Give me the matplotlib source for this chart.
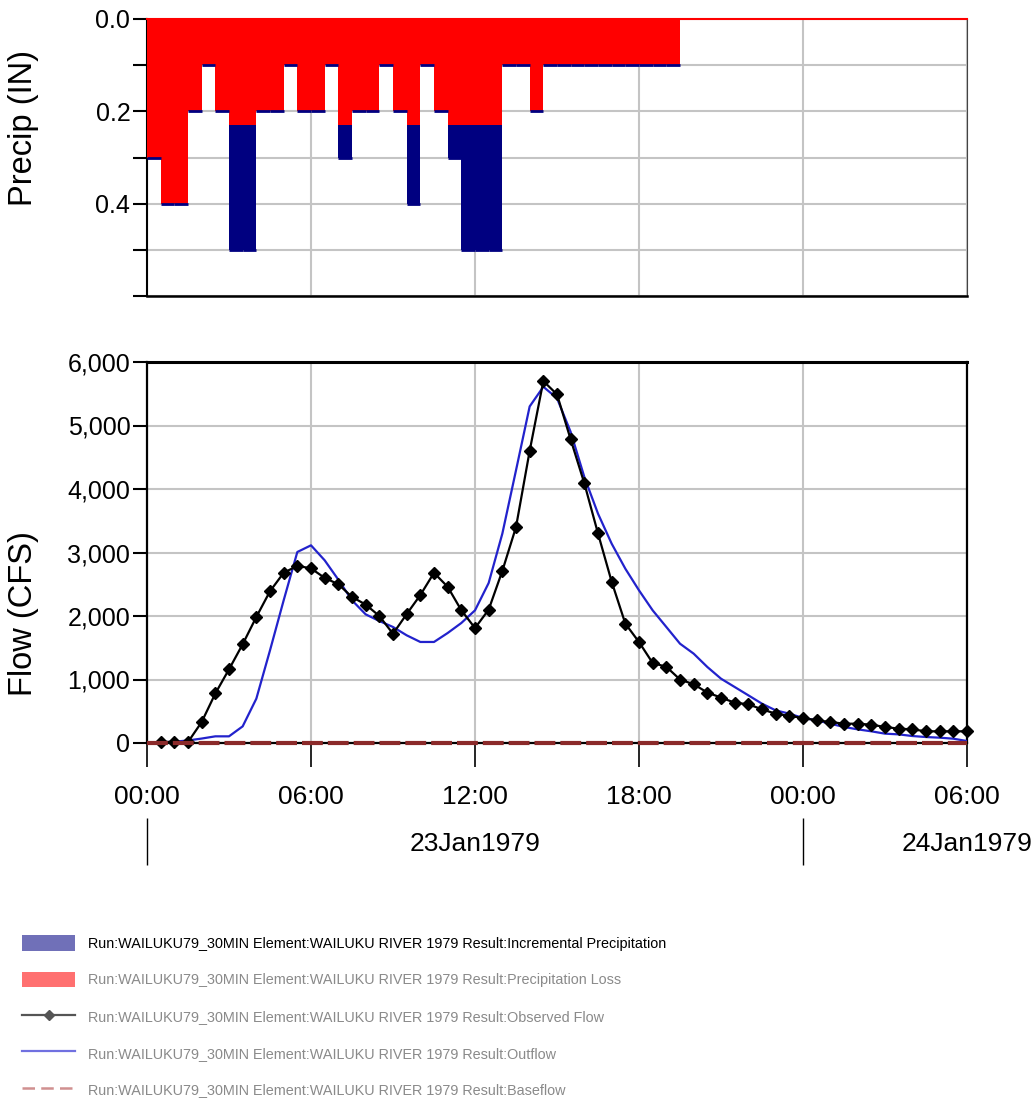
import matplotlib
matplotlib.use("Agg")
import matplotlib.pyplot as plt
from matplotlib.patches import Patch
from matplotlib.lines import Line2D
from matplotlib.ticker import FixedLocator, FixedFormatter
import numpy as np

# ---------------- data ----------------
# precipitation per 30-min interval (hours from 00:00 23Jan1979)
precip_start_h = [i * 0.5 for i in range(60)]
precip_total = [0.30, 0.40, 0.40, 0.20, 0.10, 0.20, 0.50, 0.50, 0.20, 0.20,
                0.10, 0.20, 0.20, 0.10, 0.30, 0.20, 0.20, 0.10, 0.20, 0.40,
                0.10, 0.20, 0.30, 0.50, 0.50, 0.50, 0.10, 0.10, 0.20, 0.10,
                0.10, 0.10, 0.10, 0.10, 0.10, 0.10, 0.10, 0.10, 0.10, 0.00,
                0, 0, 0, 0, 0, 0, 0, 0, 0, 0,
                0, 0, 0, 0, 0, 0, 0, 0, 0, 0]
precip_loss = [0.30, 0.40, 0.40, 0.20, 0.10, 0.20, 0.23, 0.23, 0.20, 0.20,
               0.10, 0.20, 0.20, 0.10, 0.23, 0.20, 0.20, 0.10, 0.20, 0.23,
               0.10, 0.20, 0.23, 0.23, 0.23, 0.23, 0.10, 0.10, 0.20, 0.10,
               0.10, 0.10, 0.10, 0.10, 0.10, 0.10, 0.10, 0.10, 0.10, 0.00,
               0, 0, 0, 0, 0, 0, 0, 0, 0, 0,
               0, 0, 0, 0, 0, 0, 0, 0, 0, 0]

obs_h = [0.5, 1.0, 1.5, 2.0, 2.5, 3.0, 3.5, 4.0, 4.5, 5.0, 5.5, 6.0, 6.5, 7.0,
         7.5, 8.0, 8.5, 9.0, 9.5, 10.0, 10.5, 11.0, 11.5, 12.0, 12.5, 13.0,
         13.5, 14.0, 14.5, 15.0, 15.5, 16.0, 16.5, 17.0, 17.5, 18.0, 18.5,
         19.0, 19.5, 20.0, 20.5, 21.0, 21.5, 22.0, 22.5, 23.0, 23.5, 24.0,
         24.5, 25.0, 25.5, 26.0, 26.5, 27.0, 27.5, 28.0, 28.5, 29.0, 29.5, 30.0]
obs_flow = [20, 15, 15, 330, 780, 1160, 1555, 1985, 2390, 2680, 2790, 2750,
            2600, 2500, 2300, 2180, 2000, 1720, 2030, 2330, 2680, 2460, 2090,
            1810, 2100, 2710, 3400, 4600, 5700, 5490, 4780, 4090, 3300, 2540,
            1880, 1590, 1260, 1200, 1000, 925, 795, 715, 635, 610, 530, 462,
            425, 395, 357, 331, 304, 304, 289, 252, 226, 215, 184, 184, 184, 184]

out_h = [i * 0.5 for i in range(61)]
out_flow = [0, 10, 20, 40, 70, 105, 105, 262, 698, 1459, 2247, 3008, 3113,
            2877, 2572, 2247, 2026, 1921, 1827, 1696, 1591, 1591, 1732, 1890,
            2089, 2520, 3297, 4294, 5300, 5610, 5430, 4898, 4189, 3612, 3139,
            2745, 2404, 2089, 1827, 1564, 1407, 1197, 1013, 882, 751, 619, 514,
            462, 394, 357, 304, 252, 215, 184, 147, 136, 110, 94, 84, 68, 31]

base_h = [i * 0.5 for i in range(61)]
base_flow = [0] * 61

time_ticks = [0, 6, 12, 18, 24, 30]
time_labels = ["00:00", "06:00", "12:00", "18:00", "00:00", "06:00"]
day_bounds = [0, 24]
day_label_pos = [12, 30]
day_labels = ["23Jan1979", "24Jan1979"]
precip_ticks = [0.0, 0.1, 0.2, 0.3, 0.4, 0.5, 0.6]
precip_labels = ["0.0", "", "0.2", "", "0.4", "", ""]
flow_ticks = [0, 1000, 2000, 3000, 4000, 5000, 6000]
flow_labels = ["0", "1,000", "2,000", "3,000", "4,000", "5,000", "6,000"]

legend_labels = [
    "Run:WAILUKU79_30MIN Element:WAILUKU RIVER 1979 Result:Incremental Precipitation",
    "Run:WAILUKU79_30MIN Element:WAILUKU RIVER 1979 Result:Precipitation Loss",
    "Run:WAILUKU79_30MIN Element:WAILUKU RIVER 1979 Result:Observed Flow",
    "Run:WAILUKU79_30MIN Element:WAILUKU RIVER 1979 Result:Outflow",
    "Run:WAILUKU79_30MIN Element:WAILUKU RIVER 1979 Result:Baseflow",
]

# ---------------- style ----------------
FONT = ["Liberation Sans", "DejaVu Sans"]
plt.rcParams["font.family"] = FONT
GRID = "#c4c4c4"
RED = "#ff0000"
NAVY = "#000080"

W, H = 1036, 1101
fig = plt.figure(figsize=(W / 100, H / 100), dpi=100)

def frac(l, t, r, b):
    return [l / W, 1 - b / H, (r - l) / W, (b - t) / H]

ax1 = fig.add_axes(frac(147, 19, 967, 296))
ax2 = fig.add_axes(frac(147, 362, 967, 743))

# ---------------- precipitation ----------------
ax1.bar(precip_start_h, precip_total, width=0.5, align="edge", color=NAVY,
        linewidth=0, zorder=2)
ax1.bar(precip_start_h, precip_loss, width=0.5, align="edge", color=RED,
        linewidth=0, zorder=3)
st = np.array(precip_start_h)
tt = np.array(precip_total)
m = tt > 0
ax1.hlines(tt[m], st[m], st[m] + 0.5, colors=NAVY, linewidth=2.0, zorder=4)

ax1.set_xlim(0, 30)
ax1.set_ylim(0.6, 0.0)
ax1.yaxis.set_major_locator(FixedLocator(precip_ticks))
ax1.yaxis.set_major_formatter(FixedFormatter(precip_labels))
ax1.set_xticks(time_ticks)
ax1.tick_params(axis="x", bottom=False, labelbottom=False)
ax1.tick_params(axis="y", direction="out", length=10, width=1.5, pad=2,
                labelsize=18)
ax1.grid(True, color=GRID, linewidth=1.5, zorder=0)
ax1.set_axisbelow(True)
ax1.spines["top"].set_color(RED)
ax1.spines["top"].set_linewidth(1.5)
ax1.spines["right"].set_color("#444444")
ax1.spines["left"].set_linewidth(1.5)
ax1.spines["bottom"].set_linewidth(1.8)
ax1.set_ylabel("Precip (IN)", fontsize=23.5)
ax1.yaxis.set_label_coords(-0.132, 0.606)

# ---------------- flow ----------------
ax2.plot(out_h, out_flow, color="#2222cc", linewidth=1.6, zorder=4)
ax2.plot(obs_h, obs_flow, color="black", linewidth=1.6, marker="D",
         markersize=6.5, zorder=5, clip_on=False)
ax2.plot(base_h, base_flow, color="#8b2a2a", linewidth=3, linestyle=(0, (5, 1.2)),
         zorder=6, clip_on=False)

ax2.set_xlim(0, 30)
ax2.set_ylim(0, 6000)
ax2.yaxis.set_major_locator(FixedLocator(flow_ticks))
ax2.yaxis.set_major_formatter(FixedFormatter(flow_labels))
ax2.xaxis.set_major_locator(FixedLocator(time_ticks))
ax2.xaxis.set_major_formatter(FixedFormatter(time_labels))
ax2.tick_params(axis="y", direction="out", length=10, width=1.5, pad=2,
                labelsize=18)
ax2.tick_params(axis="x", direction="out", length=17, width=1.2, pad=13,
                labelsize=19)
ax2.grid(True, color=GRID, linewidth=1.5, zorder=0)
ax2.set_axisbelow(True)
for s in ax2.spines.values():
    s.set_linewidth(1.6)
ax2.spines["top"].set_linewidth(2.2)
ax2.set_ylabel("Flow (CFS)", fontsize=23.5)
ax2.yaxis.set_label_coords(-0.132, 0.339)

# second row of dates
sec = ax2.secondary_xaxis(-0.197)
sec.spines["bottom"].set_visible(False)
sec.xaxis.set_major_locator(FixedLocator(day_bounds))
sec.xaxis.set_major_formatter(FixedFormatter(["", ""]))
sec.xaxis.set_minor_locator(FixedLocator(day_label_pos))
sec.xaxis.set_minor_formatter(FixedFormatter(day_labels))
sec.tick_params(axis="x", which="major", direction="out", length=34, width=1.0)
sec.tick_params(axis="x", which="minor", length=0, pad=10, labelsize=19)

# ---------------- legend ----------------
handles = [
    Patch(facecolor="#7070b8", edgecolor="none"),
    Patch(facecolor="#ff7070", edgecolor="none"),
    Line2D([], [], color="#555555", linewidth=1.6, marker="D", markersize=5),
    Line2D([], [], color="#7070e0", linewidth=1.6),
    Line2D([], [], color="#d09090", linewidth=1.8, linestyle=(0, (5, 2.5))),
]
leg = fig.legend(handles, legend_labels, loc="upper left",
                 bbox_to_anchor=(22 / W, 1 - 935 / H), frameon=False,
                 prop={"size": 10.4},
                 handlelength=3.7, handleheight=1.3, handletextpad=0.9,
                 labelspacing=1.45, borderaxespad=0, borderpad=0)
for i, t in enumerate(leg.get_texts()):
    t.set_color("black" if i == 0 else "#8a8a8a")

fig.savefig("out.png", dpi=100)
